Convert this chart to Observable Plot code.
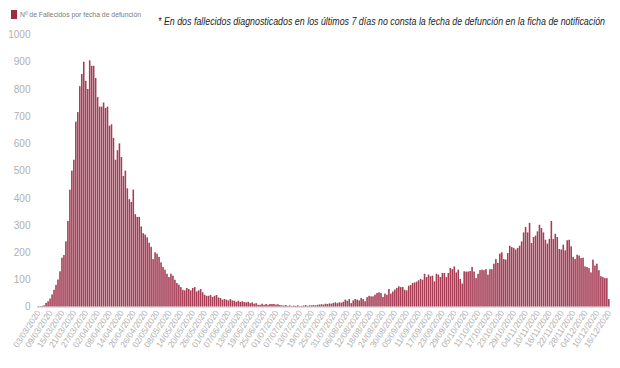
<!DOCTYPE html>
<html><head><meta charset="utf-8">
<script src="https://cdn.jsdelivr.net/npm/d3@7"></script>
<script src="https://cdn.jsdelivr.net/npm/@observablehq/plot@0.6"></script>
<style>
body{margin:0;background:#fff;}
#wrap{position:relative;width:620px;height:368px;overflow:hidden;}
#legend{position:absolute;left:11px;top:9px;height:10px;display:flex;align-items:center;white-space:nowrap;}
#legend .sw{display:inline-block;width:6px;height:9px;background:#9b2c44;margin-right:3px;}
#legend .txt{display:inline-block;font:8px "Liberation Sans",sans-serif;color:#7a7a7a;transform-origin:0 50%;}
#note{position:absolute;left:158px;top:15px;font:italic 10.5px "Liberation Sans",sans-serif;color:#1e1e1e;white-space:nowrap;transform-origin:0 50%;}
#chart{position:absolute;left:0;top:0;}
</style></head>
<body><div id="wrap"><div id="chart"></div>
<div id="legend"><span class="sw"></span><span class="txt">Nº de Fallecidos por fecha de defunción</span></div>
<div id="note">* En dos fallecidos diagnosticados en los últimos 7 días no consta la fecha de defunción en la ficha de notificación</div>
</div>
<script>
const startDate = "2020-03-03";
const deaths = [
2,2,3,5,14,20,30,45,62,80,100,130,180,190,240,315,430,500,540,680,
715,810,855,900,830,800,905,885,885,840,770,735,735,750,730,735,665,670,620,540,
575,600,550,480,500,435,395,385,430,340,330,330,295,270,265,255,235,220,175,200,
195,183,163,146,136,121,109,121,114,99,87,81,72,62,60,69,65,60,69,72,
56,60,65,53,44,40,40,43,36,40,43,34,32,26,28,26,23,28,23,22,
18,22,18,20,17,16,18,13,16,11,13,7,7,11,7,10,7,10,10,10,
8,9,6,5,4,6,3,5,2,4,3,5,2,3,4,6,3,5,
5,6,5,7,8,9,8,11,10,12,11,14,16,13,16,15,18,
26,22,28,13,23,28,26,23,32,28,20,35,40,38,38,44,50,
53,50,36,48,44,65,48,56,63,69,75,72,72,62,60,77,80,87,89,92,
97,102,99,121,109,118,112,114,93,121,118,109,124,124,109,124,142,138,148,126,
136,102,85,130,129,129,131,146,129,105,121,134,136,134,138,118,138,138,158,175,161,
195,200,175,173,197,224,219,216,210,216,224,240,273,293,273,308,234,256,261,277,
301,289,273,246,232,249,315,249,268,256,212,210,228,207,244,246,222,183,175,191,
188,179,180,148,146,142,126,173,151,158,134,112,109,105,105,28
];
const tickLabels = ["03/03/2020","09/03/2020","15/03/2020","21/03/2020","27/03/2020","02/04/2020","08/04/2020","14/04/2020","20/04/2020","26/04/2020","02/05/2020","08/05/2020","14/05/2020","20/05/2020","26/05/2020","01/06/2020","07/06/2020","13/06/2020","19/06/2020","25/06/2020","01/07/2020","07/07/2020","13/07/2020","19/07/2020","25/07/2020","31/07/2020","06/08/2020","12/08/2020","18/08/2020","24/08/2020","30/08/2020","05/09/2020","11/09/2020","17/09/2020","23/09/2020","29/09/2020","05/10/2020","11/10/2020","17/10/2020","23/10/2020","29/10/2020","04/11/2020","10/11/2020","16/11/2020","22/11/2020","28/11/2020","04/12/2020","10/12/2020","16/12/2020"];
const yTicks = [0,100,200,300,400,500,600,700,800,900,1000];

const fmt = d3.utcFormat("%d/%m/%Y");
const days = deaths.map((_, i) => fmt(d3.utcDay.offset(new Date(startDate + "T00:00:00Z"), i)));
const data = deaths.map((v, i) => ({day: days[i], value: v}));

const chart = Plot.plot({
  width: 620, height: 368,
  marginTop: 34.5, marginBottom: 61.3, marginLeft: 37, marginRight: 10,
  style: {fontFamily: "'Liberation Sans', sans-serif", background: "transparent", color: "#b0b0b0"},
  x: {type: "band", domain: days, padding: 0.2},
  y: {domain: [0, 1000]},
  marks: [
    Plot.axisY({ticks: yTicks, tickFormat: d => String(d), tickSize: 0, tickPadding: 7, fontSize: 10, label: null}),
    Plot.axisX({ticks: tickLabels, tickRotate: -57, tickSize: 0, tickPadding: 4, fontSize: 8.5, label: null}),
    Plot.barY(data, {x: "day", y: "value", fill: "#a53d55"}),
    Plot.ruleY([0], {stroke: "#d6d6d6"})
  ]
});
document.getElementById("chart").appendChild(chart);

function fitWidth(el, w) {
  const r = el.getBoundingClientRect().width;
  if (r > 0) el.style.transform = `scaleX(${w / r})`;
}
fitWidth(document.getElementById("note"), 447);
fitWidth(document.querySelector("#legend .txt"), 121);
</script>
</body></html>
